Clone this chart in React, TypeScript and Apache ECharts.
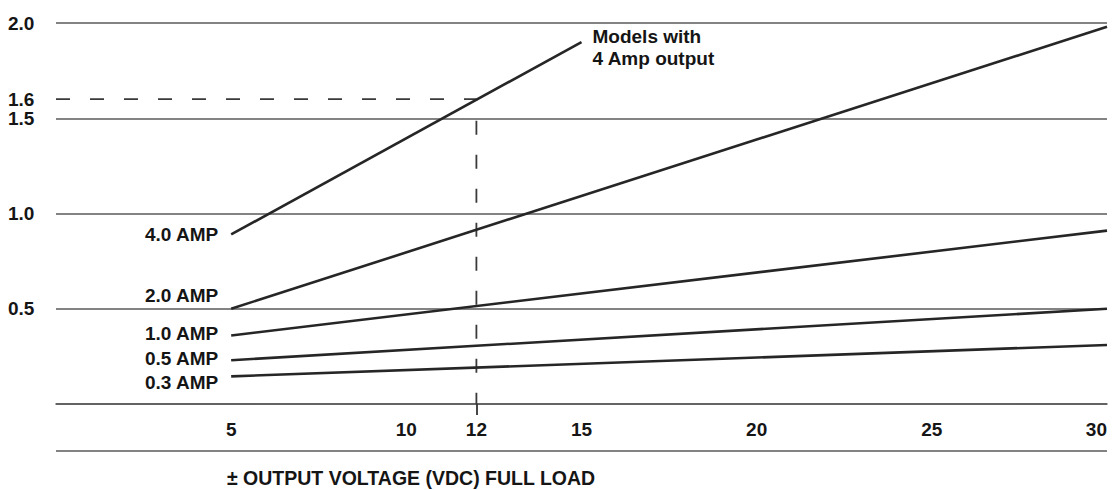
import React, { useEffect, useRef } from "react";
import * as echarts from "echarts";

// Data
const ampLabels = ["4.0 AMP", "2.0 AMP", "1.0 AMP", "0.5 AMP", "0.3 AMP"];
const startVolts = [5, 5, 5, 5, 5];
const endVolts = [15, 30, 30, 30, 30];
const startValues = [0.89, 0.5, 0.36, 0.23, 0.145];
const endValues = [1.9, 1.98, 0.91, 0.5, 0.31];
const labelOffsets = [0, -13, -2, -2, 6];

const xTickLabels = [5, 10, 12, 15, 20, 25, 30];
const yTickLabels = [0.5, 1.0, 1.5, 1.6, 2.0];
const exampleVolts = 12;
const exampleValue = 1.6;
const annotationText = "Models with\n4 Amp output";
const xTitle = "± OUTPUT VOLTAGE (VDC) FULL LOAD";

const FONT = "'Liberation Sans', Arial, Helvetica, sans-serif";
const TEXT = "#151515";
const LINE = "#262626";
const GRID = "#5a5a5a";

export default function App() {
  const ref = useRef<HTMLDivElement>(null);

  useEffect(() => {
    if (!ref.current) return;
    const chart = echarts.init(ref.current, undefined, { renderer: "svg" });

    const lineSeries = ampLabels.map((name, i) => ({
      type: "line",
      name,
      symbol: "circle",
      symbolSize: 0,
      showSymbol: true,
      showAllSymbol: true,
      silent: true,
      itemStyle: { color: LINE },
      lineStyle: { color: LINE, width: 2.6 },
      z: 5,
      label: { show: false },
      data: [
        {
          value: [startVolts[i], startValues[i]],
          label: {
            show: true,
            position: "left",
            distance: 13,
            offset: [0, labelOffsets[i]],
            formatter: name,
            color: TEXT,
            fontFamily: FONT,
            fontWeight: "bold",
            fontSize: 19,
          },
        },
        i === 0
          ? {
              value: [endVolts[i], endValues[i]],
              label: {
                show: true,
                position: "right",
                distance: 11,
                offset: [0, 5],
                align: "left",
                formatter: annotationText,
                lineHeight: 22,
                color: TEXT,
                fontFamily: FONT,
                fontWeight: "bold",
                fontSize: 19,
              },
            }
          : { value: [endVolts[i], endValues[i]] },
      ],
    }));

    const dashed = {
      type: "line",
      symbol: "none",
      silent: true,
      lineStyle: { color: "#3a3a3a", width: 1.8, type: [14, 20] },
      z: 3,
      data: [
        [0, exampleValue],
        [exampleVolts, exampleValue],
        [exampleVolts, 0],
      ],
    };

    chart.setOption({
      animation: false,
      backgroundColor: "#ffffff",
      grid: { left: 56, right: 11, top: 23, bottom: 86, containLabel: false },
      xAxis: {
        type: "value",
        min: 0,
        max: 30,
        interval: 5,
        axisLine: { show: true, lineStyle: { color: GRID, width: 1.6 } },
        axisTick: {
          show: true,
          customValues: [exampleVolts],
          length: 11,
          lineStyle: { color: "#333", width: 1.8 },
        },
        splitLine: { show: false },
        axisLabel: {
          customValues: xTickLabels,
          margin: 16,
          color: TEXT,
          fontFamily: FONT,
          fontWeight: "bold",
          fontSize: 19,
          alignMaxLabel: "right",
        },
      },
      yAxis: {
        type: "value",
        min: 0,
        max: 2,
        interval: 0.5,
        axisLine: { show: false },
        axisTick: { show: false },
        splitLine: { show: true, lineStyle: { color: GRID, width: 1.6 } },
        axisLabel: {
          customValues: yTickLabels,
          formatter: (v: number) => v.toFixed(1),
          align: "left",
          margin: 48,
          padding: [0, 0, 9, 0],
          color: TEXT,
          fontFamily: FONT,
          fontWeight: "bold",
          fontSize: 19,
        },
      },
      graphic: [
        {
          type: "line",
          shape: { x1: 56, y1: 451, x2: 1107, y2: 451 },
          style: { stroke: GRID, lineWidth: 1.6 },
          silent: true,
        },
        {
          type: "text",
          x: 227,
          y: 478,
          style: {
            text: xTitle,
            fill: TEXT,
            font: `bold 19.5px ${FONT}`,
            verticalAlign: "middle",
            align: "left",
          },
          silent: true,
        },
      ],
      series: [dashed, ...lineSeries],
    });

    return () => chart.dispose();
  }, []);

  return (
    <div
      ref={ref}
      style={{ position: "fixed", left: 0, top: 0, width: 1118, height: 490 }}
    />
  );
}
